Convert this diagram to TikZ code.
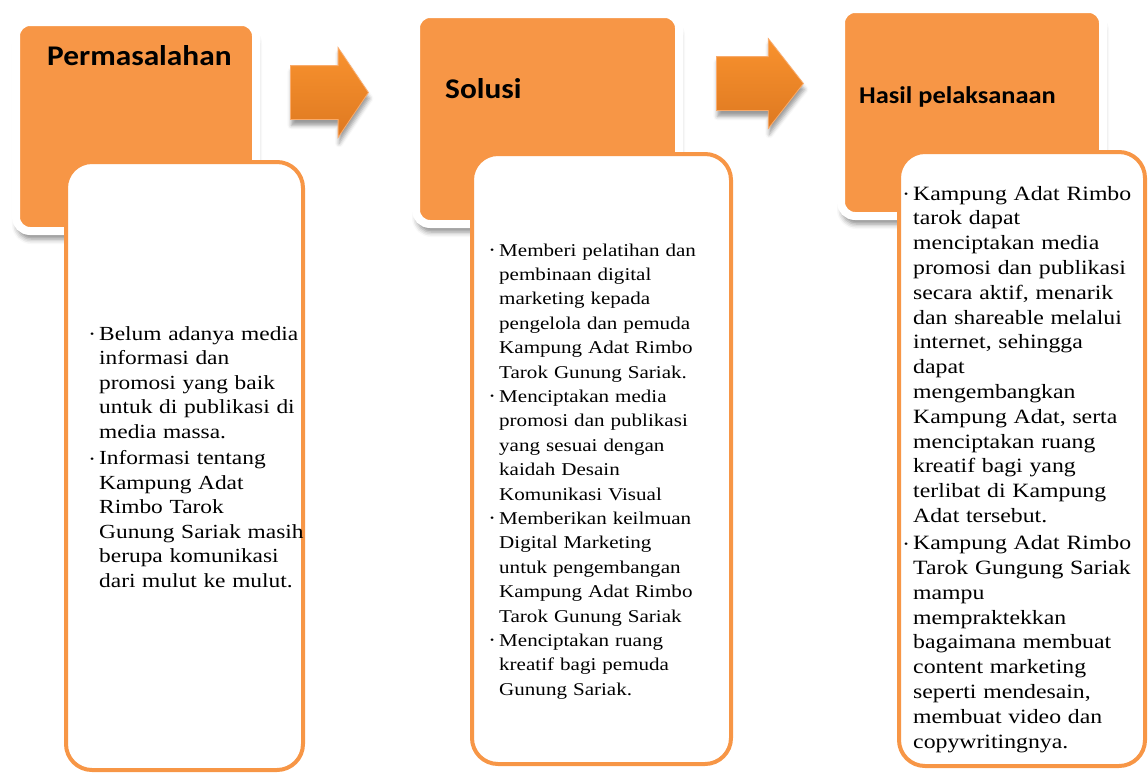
\documentclass[tikz,border=0pt]{standalone}
\usepackage{fontspec}
\setmainfont{Liberation Serif}[FakeStretch=1.17]
\newfontfamily\headfont{Carlito}[FakeStretch=1.1]
\usetikzlibrary{shapes,arrows,positioning,calc,shadows.blur}
\definecolor{boxorange}{HTML}{F79646}
\definecolor{arrtop}{HTML}{F9922E}
\definecolor{arrbot}{HTML}{DE7921}
\newcommand{\bul}{\leavevmode\llap{\raisebox{2.5pt}{\fontsize{10}{10}\selectfont\textbullet}\hspace{5pt}}}

\begin{document}
\begin{tikzpicture}[x=1pt,y=-1pt,
	headbox/.style={draw=white, line width=8pt, fill=boxorange, rounded corners=14pt, inner sep=0pt,
		blur shadow={shadow xshift=1pt, shadow yshift=-8pt, shadow blur radius=5pt, shadow opacity=45}},
	bodybox/.style={draw=boxorange, line width=4pt, fill=white, rounded corners=26pt, inner sep=0pt},
	headtext/.style={font=\headfont\bfseries, anchor=base west, inner sep=0pt},
	bodytext/.style={anchor=base west, inner sep=0pt, text width=250pt, align=left},
	blockarrow/.style={single arrow, draw=boxorange!80!white, line width=0.8pt, top color=arrtop, bottom color=arrbot,
		inner xsep=0pt, inner ysep=26.5pt, single arrow head extend=18pt, anchor=tail,
		blur shadow={shadow xshift=1pt, shadow yshift=-6pt, shadow blur radius=4pt, shadow opacity=40}}]
	\useasboundingbox (0,0) rectangle (1148,774);
	% headers
	\node[headbox, minimum width=240pt, minimum height=209pt] (hdrA) at (136,126.5) {};
	\node[headbox, minimum width=263pt, minimum height=210pt] (hdrB) at (547.5,119) {};
	\node[headbox, minimum width=262pt, minimum height=207pt] (hdrC) at (972,112.5) {};
	\node[headtext, font=\headfont\bfseries\fontsize{28.5}{30}\selectfont] (ttlA) at (47,65) {Permasalahan};
	\node[headtext, font=\headfont\bfseries\fontsize{28.5}{30}\selectfont] (ttlB) at (445,98) {Solusi};
	\node[headtext, font=\headfont\bfseries\fontsize{24}{26}\selectfont] (ttlC) at (859,103) {Hasil pelaksanaan};
	% bodies
	\node[bodybox, minimum width=237pt, minimum height=608pt] (bodyA) at (184.5,466) {};
	\node[bodybox, minimum width=259pt, minimum height=610pt] (bodyB) at (601.5,459) {};
	\node[bodybox, minimum width=246pt, minimum height=614pt] (bodyC) at (1022,459) {};
	\node[bodytext, font=\fontsize{20}{24.5}\selectfont] (txtA) at (99,340) {\bul Belum adanya media\\ informasi dan\\ promosi yang baik\\ untuk di publikasi di\\ media massa.\\[2pt] \bul Informasi tentang\\ Kampung Adat\\ Rimbo Tarok\\ Gunung Sariak masih\\ berupa komunikasi\\ dari mulut ke mulut.};
	\node[bodytext, font=\fontsize{18}{24.4}\selectfont] (txtB) at (499,256) {\bul Memberi pelatihan dan\\ pembinaan digital\\ marketing kepada\\ pengelola dan pemuda\\ Kampung Adat Rimbo\\ Tarok Gunung Sariak.\\ \bul Menciptakan media\\ promosi dan publikasi\\ yang sesuai dengan\\ kaidah Desain\\ Komunikasi Visual\\ \bul Memberikan keilmuan\\ Digital Marketing\\ untuk pengembangan\\ Kampung Adat Rimbo\\ Tarok Gunung Sariak\\ \bul Menciptakan ruang\\ kreatif bagi pemuda\\ Gunung Sariak.};
	\node[bodytext, font=\fontsize{20.3}{24.8}\selectfont] (txtC) at (913,200) {\bul Kampung Adat Rimbo\\ tarok dapat\\ menciptakan media\\ promosi dan publikasi\\ secara aktif, menarik\\ dan shareable melalui\\ internet, sehingga\\ dapat\\ mengembangkan\\ Kampung Adat, serta\\ menciptakan ruang\\ kreatif bagi yang\\ terlibat di Kampung\\ Adat tersebut.\\[2.5pt] \bul Kampung Adat Rimbo\\ Tarok Gungung Sariak\\ mampu\\ mempraktekkan\\ bagaimana membuat\\ content marketing\\ seperti mendesain,\\ membuat video dan\\ copywritingnya.};
	% arrows
	\node[blockarrow, minimum height=78pt, single arrow tip angle=112] (arrAB) at (290,92.5) {};
	\node[blockarrow, minimum height=87pt, single arrow tip angle=104] (arrBC) at (716,83.5) {};
\end{tikzpicture}
\end{document}
